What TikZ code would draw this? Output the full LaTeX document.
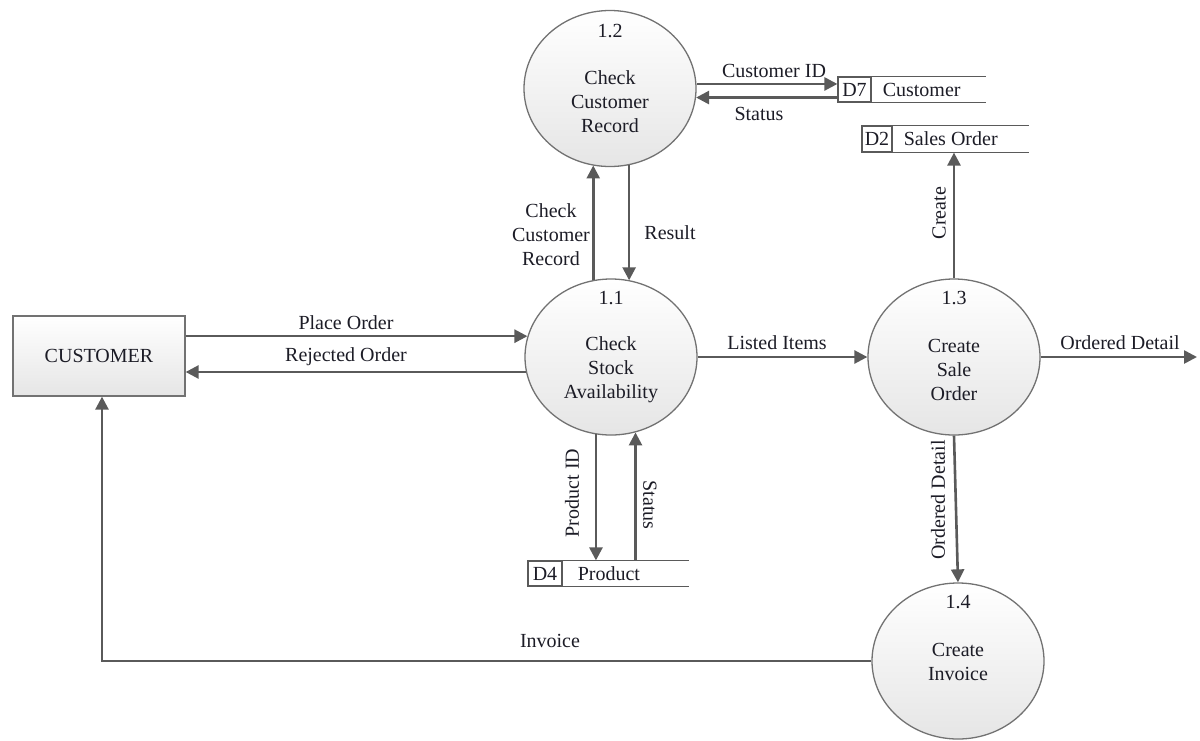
\documentclass[tikz,border=0pt]{standalone}
\usepackage{fontspec}
\setmainfont{Liberation Serif}
\usetikzlibrary{arrows.meta,shapes.geometric,calc}
\definecolor{flow}{HTML}{5A5A5A}
\definecolor{edge}{HTML}{727272}
\definecolor{ink}{HTML}{1C1C26}
\begin{document}
\begin{tikzpicture}[x=1pt,y=-1pt,
  every node/.style={font=\fontsize{20}{24}\selectfont, text=ink, inner sep=0pt},
  proc/.style={ellipse, draw=edge, line width=1.3pt, top color=white, bottom color=black!10,
    minimum width=172pt, minimum height=156pt},
  ptext/.style={align=center},
  entity/.style={rectangle, draw=edge, line width=1.3pt, top color=white, bottom color=black!10,
    minimum width=172pt, minimum height=80pt},
  storeid/.style={rectangle, draw=flow, line width=1.2pt, minimum height=25pt},
  storeline/.style={draw=flow, line width=1.2pt},
  flowarr/.style={draw=flow, line width=2.6pt, -{Triangle[length=13pt,width=13pt]}},
  flowlbl/.style={align=center}
]
\useasboundingbox (0,0) rectangle (1200,740);

% external entity
\node[entity] (cust) at (99,356) {CUSTOMER};

% processes
\node[proc] (c12) at (610,88.5) {};
\node (c12n) at ([yshift=57pt]c12.center) {1.2};
\node[ptext] (c12t) at ([yshift=-13pt]c12.center) {Check\\Customer\\Record};

\node[proc] (c11) at (611,357) {};
\node (c11n) at ([yshift=59pt]c11.center) {1.1};
\node[ptext] (c11t) at ([yshift=-13pt]c11.center) {Check\\Stock\\Availability};

\node[proc] (c13) at (954,357) {};
\node (c13n) at ([yshift=59pt]c13.center) {1.3};
\node[ptext] (c13t) at ([yshift=-13pt]c13.center) {Create\\Sale\\Order};

\node[proc] (c14) at (958,661) {};
\node (c14n) at ([yshift=59pt]c14.center) {1.4};
\node[ptext] (c14t) at ([yshift=-1pt]c14.center) {Create\\Invoice};

% data stores
\node[storeid, minimum width=33pt] (d7) at (854.5,89.5) {D7};
\node[anchor=west] (d7n) at ([xshift=11pt]d7.east) {Customer};
\draw[storeline] (d7.north west) -- ++(149,0);
\draw[storeline] (d7.south west) -- ++(149,0);

\node[storeid, minimum width=30pt, minimum height=26pt] (d2) at (877,139) {D2};
\node[anchor=west] (d2n) at ([xshift=11pt]d2.east) {Sales Order};
\draw[storeline] (d2.north west) -- ++(168,0);
\draw[storeline] (d2.south west) -- ++(168,0);

\node[storeid, minimum width=34pt] (d4) at (545,573.5) {D4};
\node[anchor=west] (d4n) at ([xshift=15pt]d4.east) {Product};
\draw[storeline] (d4.north west) -- ++(162,0);
\draw[storeline] (d4.south west) -- ++(162,0);

% data flows
\draw[flowarr] (c11.166 -| cust.east) -- (c11.166);
\draw[flowarr] (c11.190) -- (c11.190 -| cust.east);
\node[flowlbl] (lplace) at (346,323) {Place Order};
\node[flowlbl] (lreject) at (346,357) {Rejected Order};

\draw[flowarr] (c11.103) -- (c11.103 |- c12.257);
\node[flowlbl] (lcheck) at (551,235) {Check\\Customer\\Record};
\draw[flowarr] (c12.284) -- (c12.284 |- c11.76);
\node[flowlbl] (lresult) at (670,233) {Result};

\draw[flowarr] (c12.3) -- (c12.3 -| d7.west);
\node[flowlbl] (lcustid) at (774,71) {Customer ID};
\draw[flowarr] (c12.354 -| d7.west) -- (c12.354);
\node[flowlbl] (lstat1) at (759,114) {Status};

\draw[flowarr] (c11.east) -- (c13.west);
\node[flowlbl] (llisted) at (777,343) {Listed Items};

\coordinate (odout) at (1197,357);
\draw[flowarr] (c13.east) -- (odout);
\node[flowlbl] (lodright) at (1120,343) {Ordered Detail};

\draw[flowarr] (c13.north) -- (c13.north |- d2.south);
\node[flowlbl, rotate=90] (lcreate) at (939,213) {Create};

\draw[flowarr] (c11.259) -- (c11.259 |- d4.north);
\node[flowlbl, rotate=90] (lprodid) at (572,493) {Product ID};
\draw[flowarr] (c11.288 |- d4.north) -- (c11.288);
\node[flowlbl, rotate=-90] (lstat2) at (650,505) {Status};

\draw[flowarr] (c13.south) -- (c14.north);
\node[flowlbl, rotate=90] (loddown) at (938,500) {Ordered Detail};

\coordinate (invup) at ([xshift=3pt]cust.south);
\draw[flowarr] (c14.west) -- (c14.west -| invup) -- (invup);
\node[flowlbl] (linvoice) at (550,641) {Invoice};
\end{tikzpicture}
\end{document}
